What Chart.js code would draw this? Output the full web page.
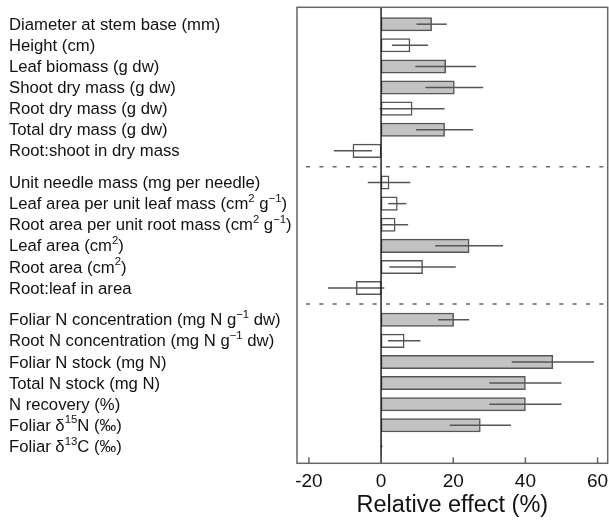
<!DOCTYPE html>
<html>
<head>
<meta charset="utf-8">
<script src="https://cdn.jsdelivr.net/npm/chart.js@4.4.1/dist/chart.umd.min.js"></script>
<style>
  html, body { margin: 0; padding: 0; background: #fff; }
  #wrap { width: 609px; height: 527px; }
</style>
</head>
<body>
<div id="wrap"><canvas id="chart" width="609" height="527"></canvas></div>
<script>
// Rows, top to bottom (^{..} marks superscript)
const labels = [
  'Diameter at stem base (mm)', 'Height (cm)', 'Leaf biomass (g dw)', 'Shoot dry mass (g dw)',
  'Root dry mass (g dw)', 'Total dry mass (g dw)', 'Root:shoot in dry mass',
  'Unit needle mass (mg per needle)', 'Leaf area per unit leaf mass (cm^{2} g^{\u22121})',
  'Root area per unit root mass (cm^{2} g^{\u22121})', 'Leaf area (cm^{2})', 'Root area (cm^{2})', 'Root:leaf in area',
  'Foliar N concentration (mg N g^{\u22121} dw)', 'Root N concentration (mg N g^{\u22121} dw)', 'Foliar N stock (mg N)',
  'Total N stock (mg N)', 'N recovery (%)', 'Foliar δ^{15}N (‰)', 'Foliar δ^{13}C (‰)',
];
const groupSizes = [7, 6, 7];
const effects = [14.0, 8.0, 17.9, 20.3, 8.6, 17.6, -7.8, 2.2, 4.5, 3.9, 24.4, 11.5, -6.9, 20.1, 6.4, 47.6, 40.0, 40.0, 27.5, 0.1];
const errors = [4.2, 5.0, 8.4, 8.0, 9.0, 7.9, 5.3, 5.9, 2.5, 3.6, 9.4, 9.2, 7.8, 4.3, 4.5, 11.4, 10.0, 10.0, 8.5, 0.3];
const significant = [1, 0, 1, 1, 0, 1, 0, 0, 0, 0, 1, 0, 0, 1, 0, 1, 1, 1, 1, 1];
const xTicks = [-20, 0, 20, 40, 60];

const FONT = '"Liberation Sans", Arial, sans-serif';
const LABEL_SIZE = 16.7;
const LINE = '#555';

// row positions: groups are separated by half a row
const rowPos = [];
groupSizes.forEach((n, g) => {
  for (let i = 0; i < n; i++) rowPos.push(rowPos.length + g * 0.5);
});
const separators = [];
let acc = 0;
groupSizes.slice(0, -1).forEach((n) => {
  acc += n;
  separators.push(rowPos[acc - 1] + 0.75);
});

// draw a label with ^{..} superscripts
function drawRich(ctx, text, x, y) {
  const parts = text.split(/(\^\{[^}]*\})/);
  let cx = x;
  parts.forEach((p) => {
    if (!p) return;
    if (p.startsWith('^{')) {
      const s = p.slice(2, -1);
      ctx.font = `${LABEL_SIZE * 0.68}px ${FONT}`;
      ctx.fillText(s, cx, y - LABEL_SIZE * 0.36);
      cx += ctx.measureText(s).width;
    } else {
      ctx.font = `${LABEL_SIZE}px ${FONT}`;
      ctx.fillText(p, cx, y);
      cx += ctx.measureText(p).width;
    }
  });
}

const decorations = {
  id: 'decorations',
  beforeDatasetsDraw(chart) {
    const { ctx, chartArea: a, scales: { y } } = chart;
    ctx.save();
    ctx.strokeStyle = '#666';
    ctx.lineWidth = 1.5;
    ctx.setLineDash([4, 9.33]);
    ctx.lineDashOffset = 4.3;
    separators.forEach((s) => {
      const py = y.getPixelForValue(s);
      ctx.beginPath();
      ctx.moveTo(a.left, py);
      ctx.lineTo(a.right, py);
      ctx.stroke();
    });
    ctx.restore();
  },
  afterDatasetsDraw(chart) {
    const { ctx, chartArea: a, scales: { x, y } } = chart;
    ctx.save();
    // error bars
    ctx.strokeStyle = LINE;
    ctx.lineWidth = 1.5;
    effects.forEach((v, i) => {
      const py = y.getPixelForValue(rowPos[i]);
      ctx.beginPath();
      ctx.moveTo(x.getPixelForValue(v - errors[i]), py);
      ctx.lineTo(x.getPixelForValue(v + errors[i]), py);
      ctx.stroke();
    });
    // zero line
    const x0 = x.getPixelForValue(0);
    ctx.strokeStyle = '#222';
    ctx.beginPath();
    ctx.moveTo(x0, a.top);
    ctx.lineTo(x0, a.bottom);
    ctx.stroke();
    // frame and inward ticks
    ctx.strokeStyle = '#666';
    ctx.strokeRect(a.left, a.top, a.right - a.left, a.bottom - a.top);
    xTicks.forEach((t) => {
      const px = x.getPixelForValue(t);
      ctx.beginPath();
      ctx.moveTo(px, a.bottom);
      ctx.lineTo(px, a.bottom - 6);
      ctx.stroke();
    });
    // row labels
    ctx.fillStyle = '#111';
    ctx.textAlign = 'left';
    ctx.textBaseline = 'middle';
    labels.forEach((t, i) => drawRich(ctx, t, 9, y.getPixelForValue(rowPos[i]) + 1));
    ctx.restore();
  },
};

new Chart(document.getElementById('chart'), {
  type: 'bar',
  data: {
    datasets: [{
      data: effects.map((v, i) => ({ x: v, y: rowPos[i] })),
      backgroundColor: significant.map((s) => (s ? '#c3c3c3' : '#ffffff')),
      borderColor: LINE,
      borderWidth: 1.5,
      borderSkipped: false,
      barThickness: 13.4,
    }],
  },
  options: {
    indexAxis: 'y',
    responsive: false,
    animation: false,
    layout: { padding: { left: 9, top: 7.3, right: 1.3, bottom: 0 } },
    scales: {
      x: {
        type: 'linear',
        min: -23.3,
        max: 62.8,
        afterBuildTicks: (s) => { s.ticks = xTicks.map((v) => ({ value: v })); },
        afterFit: (s) => { s.height = 63.7; s.paddingLeft = 0; s.paddingRight = 0; },
        grid: { display: false, drawTicks: false },
        border: { display: false },
        ticks: { color: '#111', padding: 7, font: { family: FONT, size: 19 } },
        title: {
          display: true,
          text: 'Relative effect (%)',
          color: '#111',
          padding: { top: 0, bottom: 7 },
          font: { family: FONT, size: 23.5 },
        },
      },
      y: {
        type: 'linear',
        reverse: true,
        offset: false,
        min: -0.8,
        max: 20.8,
        afterBuildTicks: (s) => { s.ticks = rowPos.map((v) => ({ value: v })); },
        afterFit: (s) => { s.width = 288; s.paddingTop = 0; s.paddingBottom = 0; },
        grid: { display: false, drawTicks: false, offset: false },
        border: { display: false },
        ticks: { display: false },
      },
    },
    plugins: {
      legend: { display: false },
      tooltip: { enabled: false },
    },
  },
  plugins: [decorations],
});
</script>
</body>
</html>
